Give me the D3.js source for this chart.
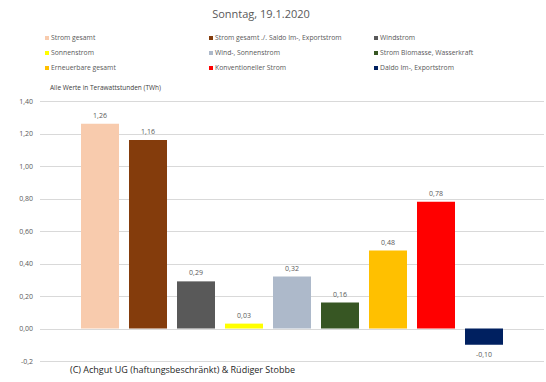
<!DOCTYPE html>
<html><head><meta charset="utf-8">
<script src="https://cdn.jsdelivr.net/npm/d3@7"></script>
<style>body{margin:0;background:#fff}svg{display:block}text{font-family:"Open Sans",sans-serif}</style>
</head><body>
<script>
const categories = ["Strom gesamt","Strom gesamt ./. Saldo Im-, Exportstrom","Windstrom","Sonnenstrom","Wind-, Sonnenstrom","Strom Biomasse, Wasserkraft","Erneuerbare gesamt","Konventioneller Strom","Daldo Im-, Exportstrom"];
const values = [1.26, 1.16, 0.29, 0.03, 0.32, 0.16, 0.48, 0.78, -0.10];
const colors = ["#F8CBAD","#843C0C","#595959","#FFFF00","#ADB9CA","#375623","#FFC000","#FF0000","#002060"];
const yTicks = [-0.2, 0, 0.2, 0.4, 0.6, 0.8, 1.0, 1.2, 1.4];
const yTickLabels = ["-0,2","0,00","0,20","0,40","0,60","0,80","1,00","1,20","1,40"];
const title = "Sonntag, 19.1.2020";
const unitNote = "Alle Werte in Terawattstunden (TWh)";
const footer = "(C) Achgut UG (haftungsbeschränkt) & Rüdiger Stobbe";

const W = 546, H = 382;
const svg = d3.select("body").append("svg").attr("width", W).attr("height", H);

const x = d3.scaleBand().domain(categories).range([76, 508]).paddingInner(0.2083).paddingOuter(0.10415);
const y = d3.scaleLinear().domain([-0.2, 1.4]).range([361, 101]);

// gridlines
svg.append("g").selectAll("line").data(yTicks).join("line")
  .attr("x1", 40).attr("x2", 544)
  .attr("y1", d => Math.round(y(d)) + 0.5).attr("y2", d => Math.round(y(d)) + 0.5)
  .attr("stroke", "#D9D9D9").attr("stroke-width", 1);

// y axis labels
const yAxis = d3.axisLeft(y).tickValues(yTicks).tickFormat((d, i) => yTickLabels[i]).tickSize(0).tickPadding(0);
const ga = svg.append("g").attr("transform", "translate(33,0)").call(yAxis);
ga.select(".domain").remove();
ga.selectAll("text").attr("fill", "#595959").style("font-size", "7px").style("font-family", "'Open Sans',sans-serif");

// bars
svg.append("g").selectAll("rect").data(values).join("rect")
  .attr("x", (d, i) => x(categories[i]))
  .attr("width", x.bandwidth())
  .attr("y", d => y(Math.max(0, d)))
  .attr("height", d => Math.abs(y(d) - y(0)))
  .attr("fill", (d, i) => colors[i]);

// data labels
svg.append("g").selectAll("text").data(values).join("text")
  .attr("x", (d, i) => x(categories[i]) + x.bandwidth() / 2)
  .attr("y", d => d >= 0 ? y(d) - 6 : y(d) + 12)
  .attr("text-anchor", "middle")
  .attr("fill", "#595959").style("font-size", "7px")
  .text(d => d3.format(".2f")(d).replace(".", ",").replace("−", "-"));

// title
svg.append("text").attr("x", 261).attr("y", 18).attr("text-anchor", "middle")
  .attr("fill", "#595959").style("font-size", "11px").text(title);

// legend
const legX = [45, 209, 374], legY = [38, 53, 68];
const lg = svg.append("g");
categories.forEach((c, i) => {
  const cx = legX[i % 3], cy = legY[Math.floor(i / 3)];
  lg.append("rect").attr("x", cx).attr("y", cy - 2).attr("width", 4).attr("height", 4).attr("fill", colors[i]);
  lg.append("text").attr("x", cx + 6).attr("y", cy + 2.4).attr("fill", "#595959").style("font-size", "6.8px").text(c);
});

svg.append("text").attr("x", 50).attr("y", 90).attr("fill", "#404040").style("font-size", "6.5px").text(unitNote);

svg.append("text").attr("x", 70).attr("y", 373).attr("fill", "#262626").style("font-size", "9px").text(footer);
</script>
</body></html>
